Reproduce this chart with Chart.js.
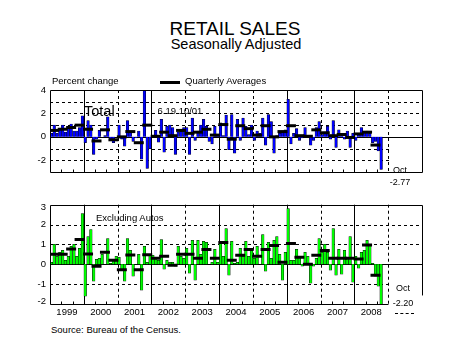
<!DOCTYPE html>
<html><head><meta charset="utf-8">
<script src="https://cdn.jsdelivr.net/npm/chart.js@4.4.0/dist/chart.umd.min.js"></script>
<style>
html,body{margin:0;padding:0;background:#fff;}
body{width:449px;height:354px;position:relative;overflow:hidden;font-family:"Liberation Sans",Arial,Helvetica,sans-serif;color:#000;}
.t{position:absolute;white-space:nowrap;line-height:1;z-index:2;}
.c{text-align:center;}
canvas{position:absolute;left:0;z-index:1;}
</style></head><body>
<div class="t c" style="left:35px;width:400px;top:18.9px;font-size:19px;">RETAIL SALES</div>
<div class="t c" style="left:36px;width:400px;top:37.4px;font-size:14.5px;">Seasonally Adjusted</div>
<div class="t" style="left:52px;top:76px;font-size:9.5px;">Percent change</div>
<div style="position:absolute;left:160px;top:80.5px;width:20px;height:3px;background:#000;"></div>
<div class="t" style="left:185px;top:76px;font-size:9.5px;">Quarterly Averages</div>
<div class="t" style="left:84px;top:103.7px;font-size:14.5px;">Total</div>
<div class="t" style="left:157.5px;top:105.5px;font-size:9.5px;">6.19 10/01</div>
<div class="t c" style="left:380px;width:40px;top:166.4px;font-size:9px;">Oct</div>
<div class="t c" style="left:380px;width:40px;top:177.9px;font-size:9px;">-2.77</div>
<div class="t" style="left:96px;top:212.5px;font-size:9.5px;">Excluding Autos</div>
<div class="t c" style="left:383px;width:40px;top:283.9px;font-size:9px;">Oct</div>
<div class="t c" style="left:383px;width:40px;top:298.9px;font-size:9px;">-2.20</div>
<div style="position:absolute;left:395px;top:313px;width:19px;border-top:1px dashed #000;z-index:2;"></div>
<div class="t" style="left:51px;top:325px;font-size:9.5px;">Source: Bureau of the Census.</div>
<canvas id="c1" width="449" height="115" style="top:80px;width:449px;height:115px;"></canvas>
<canvas id="c2" width="449" height="125" style="top:195px;width:449px;height:125px;"></canvas>
<script>
// ---- data ----
const yearLabels = ['1999','2000','2001','2002','2003','2004','2005','2006','2007','2008'];
const topTicks = [4,3,2,1,0,-1,-2,-3];
const bottomTicks = [3,2,1,0,-1,-2];
// Total retail sales, monthly % change (Jan 1999 - Oct 2008)
const totalPct = [
  0.3, 1.0, 0.3, 0.6, 1.0, 0.4, 0.9, 1.1, 0.5, 0.5, 0.8, 1.8,     // 1999
  -0.5, 1.4, 1.0, -1.5, -0.2, 0.55, 0.0, 0.1, 1.7, -0.3, -0.5, 0.0, // 2000
  1.0, -0.2, -0.8, 1.4, 0.4, -0.4, -0.1, 0.5, -1.9, 6.19, -2.7, -1.0, // 2001
  0.1, 0.55, -0.45, 1.5, -1.3, 0.9, 1.0, 0.8, -1.5, 0.4, 0.5, 0.8,  // 2002
  0.8, -1.5, 1.6, -0.3, 0.5, 1.0, 1.5, 0.9, -0.4, -0.6, 0.9, 0.2,   // 2003
  1.2, 0.1, 1.85, -1.1, 1.9, -1.4, 1.5, -0.3, 1.6, 0.9, 0.2, 1.0,   // 2004
  -0.3, 0.5, 0.3, 1.6, -0.7, 1.9, 1.3, -1.4, 0.1, 0.3, 0.5, 0.6,    // 2005
  3.2, -0.6, 0.3, 0.7, -0.3, -0.1, 0.8, 0.1, -0.7, -0.3, 0.8, 1.3,  // 2006
  0.2, 0.4, 0.9, -0.2, 1.4, -0.9, 0.6, 0.2, -0.2, 0.5, -0.9, 0.3,   // 2007
  -0.3, 0.2, 0.8, 0.4, 0.5, 0.3, -0.5, -0.4, -1.2, -2.77            // 2008
];
const totalQtr = [
  0.55, 0.65, 0.8, 1.0,   0.65, -0.35, 0.6, -0.25,   0.0, 0.45, -0.5, 1.0,
  0.05, 0.4, 0.1, 0.55,   0.3, 0.4, 0.65, 0.15,      1.05, -0.2, 0.95, 0.7,
  0.15, 0.95, 0.0, 0.45,  0.95, 0.1, 0.05, 0.6,      0.35, 0.1, 0.2, -0.05,
  0.25, 0.4, -0.7
];
// Retail sales excluding autos, monthly % change
const exAutoPct = [
  0.1, 1.0, 0.4, 0.6, 0.7, 0.2, 0.4, 0.9, 1.0, 0.4, 0.8, 2.55,     // 1999
  -1.6, 1.4, 1.75, -0.85, 0.25, 0.3, 0.5, 0.0, 1.3, 0.05, 0.2, 0.4, // 2000
  0.35, -0.3, -0.85, 1.3, 0.7, -0.6, 0.0, 0.5, -1.3, 0.9, 0.1, 0.45, // 2001
  0.45, 0.3, 0.2, 1.25, -0.25, 0.2, 0.1, 0.1, -0.1, 0.9, 0.4, 0.3,  // 2002
  0.8, -0.45, 1.2, -0.8, 1.2, 0.5, 1.15, 1.1, 0.0, 0.1, 0.75, 0.1,  // 2003
  1.1, 0.4, 1.8, -0.55, 1.15, 0.05, 0.1, 0.8, 0.4, 1.15, 0.4, 0.7,  // 2004
  0.3, 0.9, 0.0, 1.5, -0.35, 1.1, 0.3, 1.2, 1.4, 0.5, -0.8, 0.6,    // 2005
  2.8, 0.2, 0.2, 0.75, 0.4, -0.1, 0.6, 0.4, -0.95, -0.1, 0.3, 1.3,  // 2006
  0.6, 1.0, 0.6, -0.3, 1.8, -0.55, 0.75, -0.5, 0.7, 0.35, 1.4, -0.9, // 2007
  0.4, -0.2, 0.6, 0.7, 1.2, 1.0, 0.05, -0.6, -1.1, -2.2             // 2008
];
const exAutoQtr = [
  0.5, 0.5, 0.77, 1.25,   0.52, -0.1, 0.6, 0.2,    -0.27, 0.47, -0.27, 0.48,
  0.3, 0.4, -0.05, 0.5,   0.5, 0.3, 0.75, 0.3,     1.1, 0.2, 0.45, 0.75,
  0.4, 0.75, 0.95, 0.1,   1.05, 0.35, 0.0, 0.45,   0.7, 0.3, 0.3, 0.3,
  0.27, 0.97, -0.55
];

// ---- drawing helpers ----
const FONT = '"Liberation Sans", Arial, sans-serif';
function hline(ctx, x0, x1, y){ctx.beginPath();ctx.moveTo(x0,y);ctx.lineTo(x1,y);ctx.stroke();}
function vline(ctx, x, y0, y1){ctx.beginPath();ctx.moveTo(x,y0);ctx.lineTo(x,y1);ctx.stroke();}
const px = v => Math.round(v) + 0.5;

const decor = {
  id: 'decor',
  beforeDatasetsDraw(chart, args, o) {
    const {ctx, chartArea: a, scales: {x, y}} = chart;
    ctx.save();
    ctx.strokeStyle = '#000'; ctx.lineWidth = 1;
    ctx.setLineDash([3, 3]);
    for (const v of o.ticks) {
      if (v === 0 || v <= y.min || v >= y.max) continue;
      hline(ctx, a.left, a.right, px(y.getPixelForValue(v)));
    }
    for (let k = 1; k <= 10; k++) {
      const xx = px(x.getPixelForValue(12 * k));
      ctx.setLineDash(k % 2 === 1 ? [] : [3, 3]);
      vline(ctx, xx, a.top, a.bottom);
    }
    ctx.setLineDash([]);
    hline(ctx, a.left, a.right, px(y.getPixelForValue(0)));
    ctx.restore();
  },
  afterDatasetsDraw(chart, args, o) {
    const {ctx, chartArea: a, scales: {x, y}} = chart;
    ctx.save();
    const bx = px(x.getPixelForValue(120)) + 1;
    const zero = px(y.getPixelForValue(0));
    ctx.fillStyle = '#fff';
    ctx.fillRect(bx, y.getPixelForValue(o.boxTop), a.right + 4 - bx, a.bottom + 20 - y.getPixelForValue(o.boxTop));
    ctx.strokeStyle = '#000'; ctx.lineWidth = 1; ctx.setLineDash([]);
    const L = px(a.left), R = px(a.right), T = px(a.top), B = px(a.bottom);
    hline(ctx, L, R, T);
    vline(ctx, L, T, B);
    hline(ctx, L, o.cutBottom ? px(x.getPixelForValue(120)) : R, B);
    vline(ctx, R, T, o.cutBottom ? y.getPixelForValue(o.rightEnd) : B);
    hline(ctx, px(x.getPixelForValue(120)), R, zero);
    for (let m = 4; m < 120; m += 4) {
      const xx = px(x.getPixelForValue(m));
      vline(ctx, xx, B, B - 3);
    }
    ctx.restore();
  }
};

// end tick labels are kept just inside the frame, as in the original
function tickPlacement(ticks, yMin, yMax, inset) {
  return ticks.map(v => ({value: v <= yMin ? v + inset.bottom : (v >= yMax ? v - inset.top : v)}));
}

function makeChart(id, pct, qtr, color, ticks, yMin, yMax, showX, pad, extra, inset) {
  return new Chart(document.getElementById(id), {
    data: {
      datasets: [
        {
          type: 'line', order: 0,
          data: qtr.map((v, q) => ({x: 3 * q + 1.5, y: v})),
          showLine: false, pointStyle: 'line', pointRadius: 5, pointHoverRadius: 5,
          pointBorderWidth: 3, pointBorderColor: '#000', borderColor: '#000', pointBackgroundColor: '#000'
        },
        {
          type: 'bar', order: 1,
          data: pct.map((v, i) => ({x: i + 0.5, y: v})),
          backgroundColor: color, borderColor: '#000', borderWidth: 0.5,
          barThickness: 2.6
        }
      ]
    },
    options: {
      responsive: false, animation: false, events: [],
      layout: {padding: pad},
      plugins: {legend: {display: false}, tooltip: {enabled: false}, decor: extra},
      scales: {
        x: {
          type: 'linear', min: 0, max: 132, offset: false, display: showX,
          grid: {display: false, drawTicks: false}, border: {display: false},
          afterBuildTicks: s => { s.ticks = yearLabels.map((yl, i) => ({value: 12 * i + 6})); },
          afterFit: s => { s.height = 16; },
          ticks: {
            autoSkip: false, maxRotation: 0, padding: 3, color: '#000',
            font: {family: FONT, size: 9.5},
            callback: (v, i) => yearLabels[i]
          }
        },
        y: {
          min: yMin, max: yMax,
          grid: {display: false, drawTicks: false}, border: {display: false},
          afterBuildTicks: s => { s.ticks = tickPlacement(ticks, yMin, yMax, inset); },
          afterFit: s => { s.width = 50; },
          ticks: {padding: 4, color: '#000', font: {family: FONT, size: 9.5}, callback: (v, i) => String(ticks[i])}
        }
      }
    },
    plugins: [decor]
  });
}

makeChart('c1', totalPct, totalQtr, '#0000ff', topTicks, -3, 4, false,
  {top: 10, bottom: 7, left: 0, right: 27},
  {ticks: topTicks, boxTop: -0.3, cutBottom: false, rightEnd: -3},
  {top: 0, bottom: 0.3});
makeChart('c2', exAutoPct, exAutoQtr, '#00ff00', bottomTicks, -2, 3, true,
  {top: 7, bottom: 0, left: 0, right: 27},
  {ticks: bottomTicks, boxTop: -0.72, cutBottom: true, rightEnd: -1.57},
  {top: 0.15, bottom: 0.15});
</script>
</body></html>
